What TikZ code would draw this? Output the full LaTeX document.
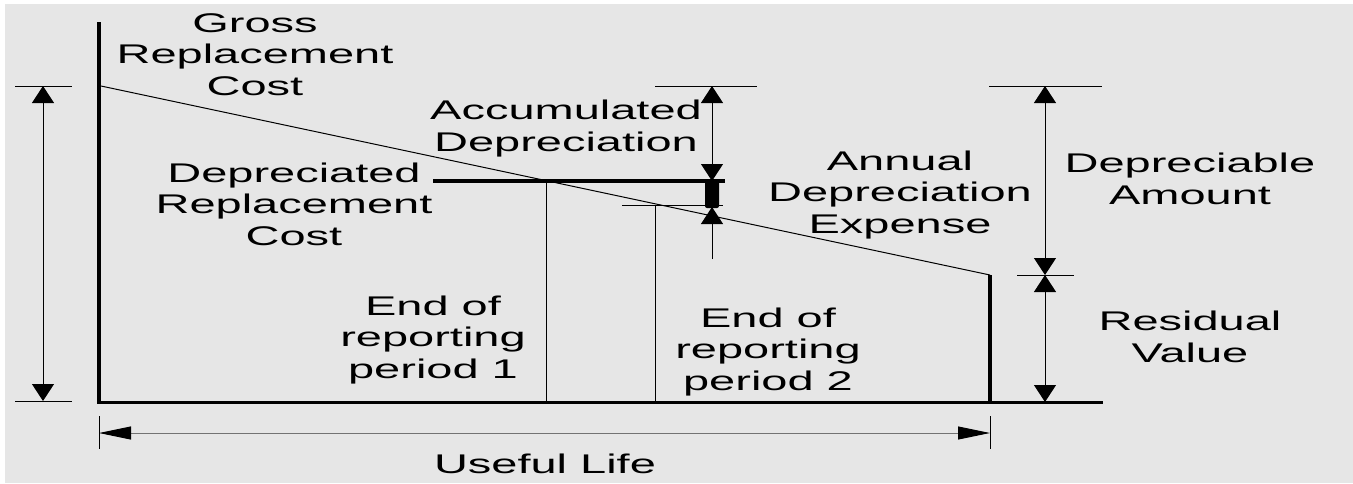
\documentclass[tikz,border=0pt]{standalone}
\usepackage{fontspec}
\setmainfont{Liberation Sans}[FakeStretch=1.74]
\usetikzlibrary{arrows.meta}
\definecolor{bggray}{HTML}{E6E6E6}
\begin{document}
\begin{tikzpicture}[x=1pt,y=-1pt,
  lbl/.style={font=\fontsize{27}{31.5}\selectfont, align=center, inner sep=0pt, anchor=base},
  thinln/.style={line width=1pt, black},
  vdim/.style={thinln, {Triangle[length=17pt,width=22pt]}-{Triangle[length=17pt,width=22pt]}},
  vtip/.style={thinln, -{Triangle[length=17pt,width=22pt]}},
  hdim/.style={line width=1pt, black!55, {Triangle[length=32pt,width=13pt,color=black]}-{Triangle[length=32pt,width=13pt,color=black]}},
  tick/.style={line width=0.8pt, black}
]
\fill[white] (0,0) rectangle (1353,483);
\fill[bggray] (5,4) rectangle (1353,483);
\useasboundingbox (0,0) rectangle (1353,483);

% key points
\coordinate (Atop) at (99,22);
\coordinate (O) at (99,402);
\coordinate (Bend) at (1103,402);
\coordinate (G) at (101,86);
\coordinate (R) at (990,275);
\coordinate (Rb) at (990,402);
\coordinate (DLa) at (433,181);
\coordinate (DLb) at (725,181);
\coordinate (P1) at (546,181);
\coordinate (P1b) at (546,402);
\coordinate (ELa) at (622,205);
\coordinate (ELb) at (723,205);
\coordinate (P2) at (655,205);
\coordinate (P2b) at (655,402);

% axes
\draw[line width=4pt] (Atop) -- (99,404);
\draw[line width=3pt] (97,402) -- (Bend);
% depreciation line
\draw[thinln] (G) -- (R);
\draw[line width=4pt] (R) -- (990,401);
% depreciated replacement cost level
\draw[line width=3.5pt] (DLa) -- (DLb);
\draw[thinln] (P1) -- (P1b);
\draw[thinln] (ELa) -- (ELb);
\draw[thinln] (P2) -- (P2b);

% accumulated depreciation dimension
\coordinate (ACt) at (712,86);
\coordinate (ACb) at (712,181);
\draw[tick] (655,86) -- (757,86);
\draw[vdim] (ACt) -- (ACb);
\fill[rounded corners=2pt] (705,181) rectangle (719,208);
\coordinate (AEb) at (712,259);
\coordinate (AEt) at (712,207);
\draw[vtip] (AEb) -- (AEt);

% depreciable amount / residual value
\coordinate (DAt) at (1045,86);
\coordinate (DAm) at (1045,275);
\coordinate (DAb) at (1045,402);
\draw[tick] (989,86) -- (1102,86);
\draw[tick] (1017,275) -- (1074,275);
\draw[vdim] (DAt) -- (DAm);
\draw[vdim] (DAm) -- (DAb);

% left dimension
\coordinate (LDt) at (43,86);
\coordinate (LDb) at (43,401);
\draw[tick] (15,86) -- (72,86);
\draw[tick] (15,401) -- (72,401);
\draw[vdim] (LDt) -- (LDb);

% useful life
\coordinate (ULl) at (99,433);
\coordinate (ULr) at (990,433);
\draw[tick] (99,416) -- (99,449);
\draw[tick] (990,416) -- (990,449);
\draw[hdim] (ULl) -- (ULr);

% labels (anchor = baseline of last line)
\node[lbl] (grc) at (255,95) {Gross\\Replacement\\Cost};
\node[lbl] (drc) at (294,245) {Depreciated\\Replacement\\Cost};
\node[lbl] (acc) at (566,151) {Accumulated\\Depreciation};
\node[lbl] (ade) at (900,233) {Annual\\Depreciation\\Expense};
\node[lbl] (dam) at (1190,204) {Depreciable\\Amount};
\node[lbl] (rv) at (1190,362) {Residual\\Value};
\node[lbl] (e1) at (433,378) {End of\\reporting\\period 1};
\node[lbl] (e2) at (768,390) {End of\\reporting\\period 2};
\node[lbl] (ul) at (545,473) {Useful Life};
\end{tikzpicture}
\end{document}
